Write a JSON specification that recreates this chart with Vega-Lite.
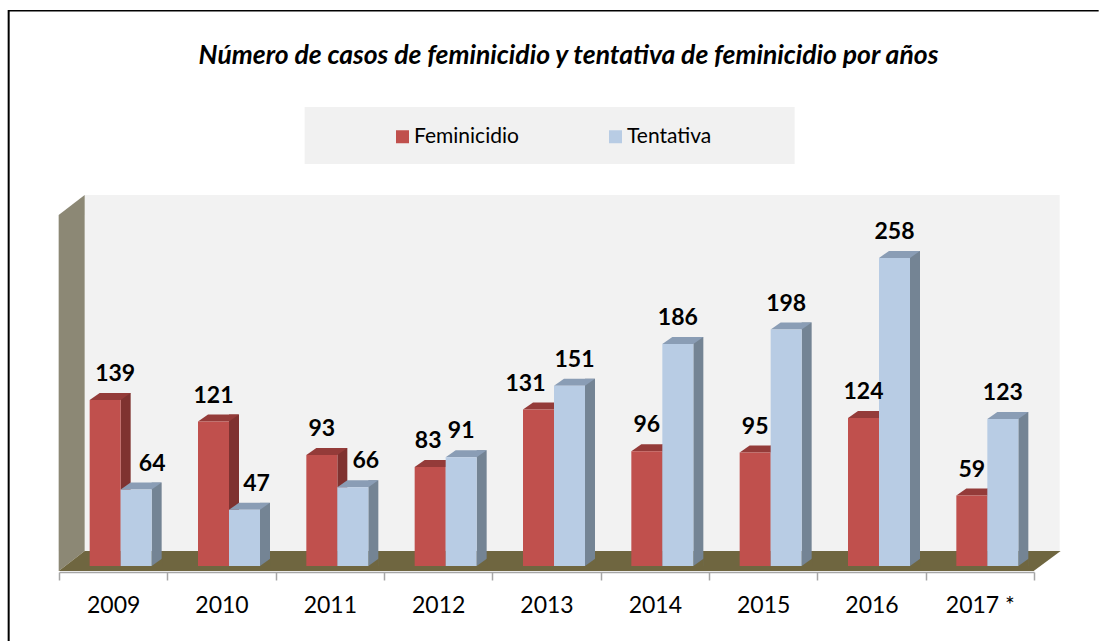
{
"$schema":"https://vega.github.io/schema/vega-lite/v6.json",
"width":975,"height":377,
"padding":{"left":59,"top":195,"right":65,"bottom":69},
"autosize":{"type":"none"},
"background":"white",
"view":{"stroke":null},
"title":{"text":"Número de casos de feminicidio y tentativa de feminicidio por años","font":"Lato","fontSize":26.5,"fontWeight":"bold","fontStyle":"italic","color":"black","anchor":"middle","dx":22,"offset":-60},
"data":{"values":[
{"year":"2009","serie":"Feminicidio","casos":139},{"year":"2009","serie":"Tentativa","casos":64},
{"year":"2010","serie":"Feminicidio","casos":121},{"year":"2010","serie":"Tentativa","casos":47},
{"year":"2011","serie":"Feminicidio","casos":93},{"year":"2011","serie":"Tentativa","casos":66},
{"year":"2012","serie":"Feminicidio","casos":83},{"year":"2012","serie":"Tentativa","casos":91},
{"year":"2013","serie":"Feminicidio","casos":131},{"year":"2013","serie":"Tentativa","casos":151},
{"year":"2014","serie":"Feminicidio","casos":96},{"year":"2014","serie":"Tentativa","casos":186},
{"year":"2015","serie":"Feminicidio","casos":95},{"year":"2015","serie":"Tentativa","casos":198},
{"year":"2016","serie":"Feminicidio","casos":124},{"year":"2016","serie":"Tentativa","casos":258},
{"year":"2017 *","serie":"Feminicidio","casos":59},{"year":"2017 *","serie":"Tentativa","casos":123}
]},
"encoding":{
"x":{"field":"year","type":"nominal","title":null,"sort":null,
"scale":{"type":"band","domain":["2009","2010","2011","2012","2013","2014","2015","2016","2017 *"],"paddingInner":0,"paddingOuter":0},
"axis":{"orient":"bottom","tickBand":"extent","labelAngle":0,"labelFont":"Lato","labelFontSize":23,"labelColor":"black","labelPadding":14,"tickSize":8,"tickColor":"#a6a6a6","tickWidth":1.5,"domainColor":"#a6a6a6","domainWidth":1.5,"grid":false}},
"y":{"field":"casos","type":"quantitative","title":null,"scale":{"domain":[-5.03,310.7],"nice":false,"zero":false},"axis":null}
},
"layer":[
{"data":{"values":[{"year":"2009","casos":0}]},"mark":{"type":"point","filled":true,"opacity":1,"size":4,"strokeWidth":0,"fill":"black","shape":"M-105.5,-556 L985.5,-556 L985.5,-554.5 L-103.5,-554.5 L-103.5,75 L-105.5,75 Z"}},
{"data":{"values":[{"year":"2009","casos":0}]},"mark":{"type":"point","filled":true,"opacity":1,"size":4,"strokeWidth":0,"fill":"#f1f1f1","shape":"M191.5,-459 L681.5,-459 L681.5,-402 L191.5,-402 Z"}},
{"data":{"values":[{"year":"2009","casos":0}]},"mark":{"type":"point","filled":true,"opacity":1,"size":4,"strokeWidth":0,"fill":"#f2f2f2","shape":"M-28.5,-371 L946.5,-371 L946.5,-15 L-28.5,-15 Z"}},
{"data":{"values":[{"year":"2009","casos":0}]},"mark":{"type":"point","filled":true,"opacity":1,"size":4,"strokeWidth":0,"fill":"#8c8875","shape":"M-54.5,-351 L-28.5,-371 L-28.5,-15 L-54.5,5 Z"}},
{"data":{"values":[{"year":"2009","casos":0}]},"mark":{"type":"point","filled":true,"opacity":1,"size":4,"strokeWidth":0,"fill":"#6f6640","shape":"M-54.5,5 L-28.5,-15 L947.5,-15 L920.5,5 Z"}},

{"transform":[{"filter":"datum.serie=='Feminicidio'"}],"mark":{"type":"bar","width":10,"xOffset":12.5,"yOffset":-7,"fill":"#7f3230"},"encoding":{"y2":{"datum":0}}},
{"transform":[{"filter":"datum.serie=='Feminicidio'"}],"mark":{"type":"point","filled":true,"opacity":1,"size":4,"strokeWidth":0,"fill":"#943b39","xOffset":-8,"shape":"M-15.5,0 L15.5,0 L25.5,-7 L-5.5,-7 Z"}},
{"transform":[{"filter":"datum.serie=='Feminicidio'"}],"mark":{"type":"bar","width":31,"xOffset":-8},"encoding":{"y2":{"datum":0},"color":{"field":"serie","type":"nominal","scale":{"domain":["Feminicidio","Tentativa"],"range":["#c0504d","#b8cce4"]},
"legend":{"title":null,"orient":"none","legendX":333,"legendY":-69,"direction":"horizontal","columns":2,"columnPadding":86,"symbolType":"square","symbolSize":169,"symbolStrokeWidth":0,"labelFont":"Lato","labelFontSize":21,"labelColor":"black","labelOffset":1,"padding":0}}}},

{"transform":[{"filter":"datum.serie=='Tentativa'"}],"mark":{"type":"bar","width":10,"xOffset":43.5,"yOffset":-7,"fill":"#748494"},"encoding":{"y2":{"datum":0}}},
{"transform":[{"filter":"datum.serie=='Tentativa'"}],"mark":{"type":"point","filled":true,"opacity":1,"size":4,"strokeWidth":0,"fill":"#6f6640","xOffset":23,"shape":"M15.5,0 L26,0 L26,-7.5 Z"},"encoding":{"y":{"datum":0}}},
{"transform":[{"filter":"datum.serie=='Tentativa'"}],"mark":{"type":"point","filled":true,"opacity":1,"size":4,"strokeWidth":0,"fill":"#8a9db5","xOffset":23,"shape":"M-15.5,0 L15.5,0 L25.5,-7 L-5.5,-7 Z"}},
{"transform":[{"filter":"datum.serie=='Tentativa'"}],"mark":{"type":"bar","width":31,"xOffset":23},"encoding":{"y2":{"datum":0},"color":{"field":"serie","type":"nominal"}}},

{"transform":[{"filter":"datum.serie=='Feminicidio' && datum.casos!=139 && datum.casos!=83 && datum.casos!=131"}],"mark":{"type":"text","font":"Lato","fontSize":23,"fontWeight":"bold","fill":"black","xOffset":-8,"yOffset":-26},"encoding":{"text":{"field":"casos","type":"quantitative"}}},
{"transform":[{"filter":"datum.serie=='Tentativa' && datum.casos!=64 && datum.casos!=47 && datum.casos!=66 && datum.casos!=151"}],"mark":{"type":"text","font":"Lato","fontSize":23,"fontWeight":"bold","fill":"black","xOffset":23,"yOffset":-26},"encoding":{"text":{"field":"casos","type":"quantitative"}}},
{"transform":[{"filter":"datum.casos==139"}],"mark":{"type":"text","font":"Lato","fontSize":23,"fontWeight":"bold","fill":"black","xOffset":2,"yOffset":-26},"encoding":{"text":{"field":"casos","type":"quantitative"}}},
{"transform":[{"filter":"datum.casos==83"}],"mark":{"type":"text","font":"Lato","fontSize":23,"fontWeight":"bold","fill":"black","xOffset":-10,"yOffset":-26},"encoding":{"text":{"field":"casos","type":"quantitative"}}},
{"transform":[{"filter":"datum.casos==131"}],"mark":{"type":"text","font":"Lato","fontSize":23,"fontWeight":"bold","fill":"black","xOffset":-21,"yOffset":-26},"encoding":{"text":{"field":"casos","type":"quantitative"}}},
{"transform":[{"filter":"datum.casos==64"}],"mark":{"type":"text","font":"Lato","fontSize":23,"fontWeight":"bold","fill":"black","xOffset":39,"yOffset":-26},"encoding":{"text":{"field":"casos","type":"quantitative"}}},
{"transform":[{"filter":"datum.casos==47"}],"mark":{"type":"text","font":"Lato","fontSize":23,"fontWeight":"bold","fill":"black","xOffset":35,"yOffset":-26},"encoding":{"text":{"field":"casos","type":"quantitative"}}},
{"transform":[{"filter":"datum.casos==66"}],"mark":{"type":"text","font":"Lato","fontSize":23,"fontWeight":"bold","fill":"black","xOffset":36,"yOffset":-26},"encoding":{"text":{"field":"casos","type":"quantitative"}}},
{"transform":[{"filter":"datum.casos==151"}],"mark":{"type":"text","font":"Lato","fontSize":23,"fontWeight":"bold","fill":"black","xOffset":28,"yOffset":-26},"encoding":{"text":{"field":"casos","type":"quantitative"}}}
]
}
